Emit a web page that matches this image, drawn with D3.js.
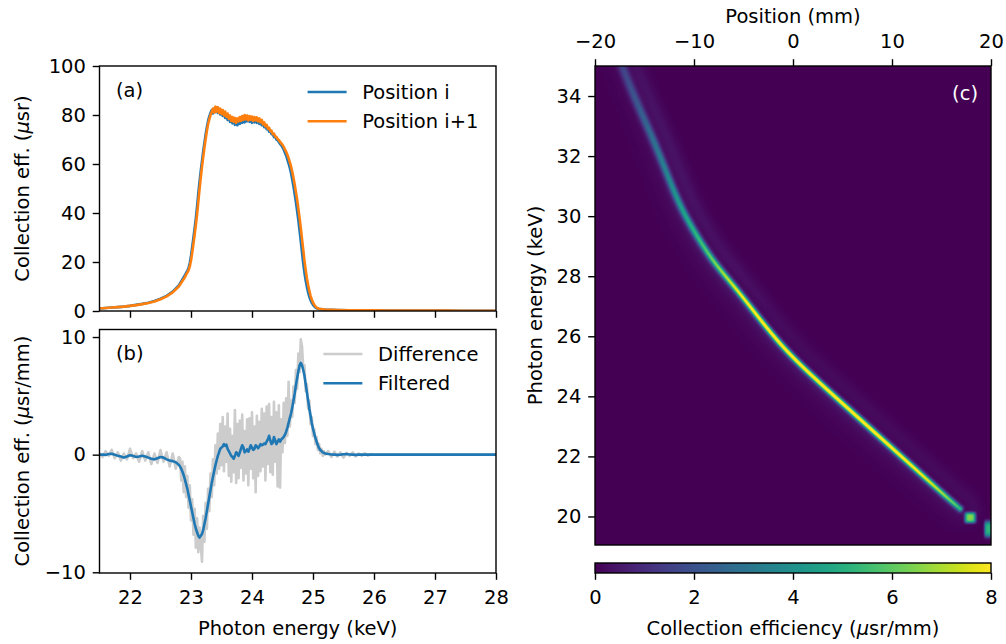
<!DOCTYPE html>
<html>
<head>
<meta charset="utf-8">
<script src="https://cdn.jsdelivr.net/npm/d3@7"></script>
<style>
  html, body { margin: 0; padding: 0; background: #fff; }
  svg text { font-family: "DejaVu Sans", sans-serif; }
</style>
</head>
<body>
<svg id="fig" width="1006" height="644"></svg>
<script>
// ---------- sampling grids (keV) ----------
function grid(a, b, step) {
  const n = Math.round((b - a) / step) + 1;
  return d3.range(n).map(i => +(a + i * step).toFixed(3));
}

// ---------- panel (a): collection efficiency (µsr) at two positions ----------
const energyA = [...grid(21.5, 22.8, 0.1), ...grid(22.9, 25.1, 0.02), ...grid(25.2, 28.0, 0.2)];
const posILow  = [1.0,1.2,1.4,1.6,1.8,2.1,2.5,2.9,3.4,4.1,5.0,6.2,7.9,10.4];
const posIMid  = [
  14.6,15.6,16.4,17.5,19.6,22.6,26.2,30.0,33.8,38.0,
  42.8,48.0,52.8,57.2,61.2,65.2,68.6,72.2,75.0,77.6,
  79.4,80.9,82.0,80.6,82.6,81.2,83.0,80.8,82.4,80.2,
  81.6,79.6,81.0,78.8,80.2,78.0,79.4,77.2,78.6,76.6,
  77.8,76.0,77.4,75.8,77.6,76.4,78.2,76.8,78.6,77.0,
  78.8,77.4,79.0,77.2,78.6,76.8,78.4,77.0,78.6,76.8,
  78.0,76.4,77.6,75.8,76.8,75.0,75.8,74.2,74.6,73.2,
  73.6,72.2,72.4,71.0,71.4,70.0,69.8,69.0,68.2,67.6,
  66.8,65.8,64.6,63.4,61.8,60.2,58.4,56.2,53.6,50.8,
  47.6,44.4,40.8,37.0,32.8,28.4,23.8,19.4,15.6,12.4,
  9.8,7.6,5.8,4.4,3.3,2.5,1.9,1.4,1.1,0.9,
  0.75];
const posIHigh = [0.55,0.4,0.32,0.28,0.25,0.22,0.2,0.18,0.16,0.15,0.14,0.13,0.12,0.12,0.11];

const posI1Low  = [1.0,1.2,1.4,1.6,1.8,2.1,2.4,2.8,3.3,3.9,4.8,6.0,7.6,10.0];
const posI1Mid  = [
  13.8,14.8,15.7,16.6,18.2,20.6,23.8,27.4,31.2,35.2,
  39.6,44.6,49.6,54.4,58.8,62.8,66.6,70.2,73.4,76.2,
  78.2,80.0,81.2,82.6,81.0,83.4,81.4,83.2,80.8,82.6,
  80.4,82.0,79.8,81.4,79.2,80.6,78.4,79.8,77.6,79.2,
  77.2,78.8,76.8,78.6,77.4,79.2,77.6,79.6,78.0,80.0,
  78.2,79.8,77.8,79.6,78.0,79.4,77.6,79.2,77.8,79.0,
  77.4,78.6,77.0,78.0,76.2,77.0,75.4,76.0,74.4,74.8,
  73.4,73.6,72.2,72.4,71.2,71.0,70.2,69.8,69.0,68.4,
  67.8,67.0,66.0,65.0,63.8,62.4,60.8,59.0,56.8,54.4,
  51.6,48.6,45.4,41.8,38.0,33.8,29.4,25.0,20.6,16.8,
  13.4,10.6,8.2,6.2,4.7,3.5,2.6,1.9,1.4,1.1,
  0.9];
const posI1High = [0.62,0.42,0.33,0.28,0.25,0.22,0.2,0.18,0.16,0.15,0.14,0.13,0.12,0.12,0.11];

const effPosI  = [...posILow, ...posIMid, ...posIHigh];
const effPosI1 = [...posI1Low, ...posI1Mid, ...posI1High];

// ---------- panel (b): difference per mm and its filtered version ----------
const energyB = [...grid(21.5, 22.8, 0.05), ...grid(22.82, 25.2, 0.02), ...grid(25.25, 26.0, 0.05), ...grid(26.2, 28.0, 0.2)];
const diffLow = [0.1,-0.2,0.3,-0.1,0.4,-0.3,0.2,-0.5,0.1,-0.4,0.5,-0.3,0.1,-0.6,0.3,-0.5,0.2,-0.8,0.1,-0.7,0.4,-0.6,0.2,-1.0,0.1,-1.2,-0.2];
const diffMid = [
  -0.3,-2.2,-0.6,-3.2,-1.0,-3.6,-1.8,-4.5,-2.6,-5.6,
  -3.8,-6.8,-4.6,-7.9,-5.4,-8.3,-6.2,-7.6,-9.1,-5.2,
  -7.4,-4.1,-6.3,-2.9,-4.8,-1.6,-3.6,-0.4,-2.6,0.8,
  -1.6,1.8,-1.2,2.6,-0.9,3.2,-1.4,2.4,-0.6,3.5,
  -1.8,2.2,-2.3,1.6,-1.5,3.8,-2.4,2.6,-2.0,2.9,
  -1.1,3.4,-2.2,2.0,-1.6,3.0,-2.6,3.1,-1.2,3.6,
  -2.0,2.4,-3.2,3.3,-1.8,2.8,-1.4,3.9,-1.0,3.5,
  -2.2,4.1,-0.8,4.3,-1.5,3.2,-1.7,4.5,-0.6,3.6,
  -2.7,4.2,-2.8,3.0,0.2,4.4,1.0,4.8,1.6,6.2,
  2.4,4.6,3.2,5.8,4.4,7.2,5.6,8.6,7.0,9.8,
  9.2,7.4,7.6,5.4,6.0,3.9,4.6,2.6,3.2,1.6,
  2.2,0.9,1.5,0.4,0.9,0.1,0.5,-0.1,0.3,0.0];
const diffHigh = [0.3,-0.2,0.25,-0.15,0.2,-0.25,0.15,-0.1,0.2,-0.15,0.1,-0.1,0.12,-0.08,0.05,0.0,
  0,0,0,0,0,0,0,0,0,0];

const filtLow = [0,0.02,-0.02,0.05,0.08,0.0,-0.1,-0.15,-0.25,-0.15,-0.05,-0.1,-0.2,-0.15,-0.1,-0.15,-0.25,-0.35,-0.4,-0.3,-0.2,-0.25,-0.4,-0.5,-0.55,-0.65,-0.85];
const filtMid = [
  -1.0,-1.2,-1.45,-1.75,-2.1,-2.5,-2.9,-3.4,-3.9,-4.4,
  -4.9,-5.4,-5.9,-6.3,-6.6,-6.9,-7.05,-6.9,-6.75,-6.4,
  -5.9,-5.4,-4.8,-4.2,-3.6,-3.0,-2.4,-1.9,-1.4,-0.9,
  -0.5,-0.1,0.2,0.5,0.6,0.7,0.9,0.75,0.85,0.5,
  0.3,0.1,-0.1,-0.2,-0.35,-0.1,0.2,0.1,-0.1,0.2,
  0.5,0.8,0.6,0.2,0.3,0.45,0.25,0.5,0.8,0.6,
  0.4,0.5,0.8,0.7,0.55,0.7,0.9,0.8,0.85,0.95,
  0.9,1.1,1.3,1.6,1.2,0.9,1.0,1.5,1.2,0.9,
  1.1,1.3,1.1,1.3,1.4,1.5,1.7,1.95,2.3,2.7,
  3.1,3.5,4.0,4.6,5.2,5.9,6.5,7.1,7.6,7.8,
  7.6,7.2,6.7,6.0,5.3,4.6,3.9,3.3,2.7,2.2,
  1.8,1.4,1.1,0.8,0.55,0.4,0.3,0.2,0.15,0.1];
const filtHigh = [0.05,0.02,0.0,-0.02,0.0,0.03,0.05,0.02,0.0,-0.02,0.0,0.02,0.0,0.01,0.0,0.0,
  0,0,0,0,0,0,0,0,0,0];

const diffVals = [...diffLow, ...diffMid, ...diffHigh];
const filtVals = [...filtLow, ...filtMid, ...filtHigh];

// ---------- panel (c): ridge of the position/energy map (control points) ----------
const ridgeX     = [-17.58,-17.14,-15.63,-14.11,-12.76,-11.41,-9.9,-8.21,-6.53,-4.85,-1.31,2.05,5.42,8.79,12.16,15.52,16.87];
const ridgeE     = [35.33,34.89,33.67,32.56,31.44,30.33,29.44,28.56,27.89,27.22,25.70,24.64,23.64,22.64,21.64,20.64,20.26];
const ridgePeak  = [1.5,1.6,2.2,2.9,3.6,4.4,5.2,6.2,7.3,8.4,8.8,8.8,8.8,8.8,8.5,6.8,5.4];
const ridgeSigma = [3.2,3.1,2.9,2.7,2.5,2.4,2.3,2.2,2.1,2.0,2.0,2.0,2.0,2.0,2.0,2.0,2.0];
const ridgeHalo  = [0.3,0.3,0.4,0.5,0.6,0.7,0.8,0.9,0.9,0.9,0.9,0.9,0.9,0.9,0.8,0.7,0.6];
const ridgeScatter = [0.3,0.3,0.35,0.35,0.35,0.35,0.3,0.3,0.3,0.25,0.2,0.2,0.2,0.2,0.2,0.2,0.2];
const spotX    = [17.9, 19.75];
const spotE    = [19.96, 19.58];
const spotPeak = [6.4, 5.2];
const spotHalfX = [0.5, 0.38];
const spotHalfE = [0.16, 0.24];

const ticksA = [0, 20, 40, 60, 80, 100];
const ticksB = [-10, 0, 10];
const ticksEnergy = [22, 23, 24, 25, 26, 27, 28];
const ticksPos = [-20, -10, 0, 10, 20];
const ticksMapE = [20, 22, 24, 26, 28, 30, 32, 34];
const ticksCbar = [0, 2, 4, 6, 8];

// ---------- layout ----------
const FONT = 19.5, TICK = 6.8, PAD = 6.8, SPINE = 1.4, LW = 2.6;
const PAD_BOTTOM = 10.8, PAD_TOP = 11.2;
const fmt = d3.format('d');
const svg = d3.select('#fig');

const xE = d3.scaleLinear().domain([21.5, 28]).range([99.5, 496]);
const yA = d3.scaleLinear().domain([0, 100]).range([311, 66]);
const yB = d3.scaleLinear().domain([-10.06, 10.64]).range([573, 329.5]);
const xC = d3.scaleLinear().domain([-20, 20]).range([595, 991]);
const yC = d3.scaleLinear().domain([19.05, 35]).range([545, 66]);
const cbar = d3.scaleLinear().domain([0, 8]).range([595, 991]);
const CB_TOP = 563, CB_BOT = 573;

const defs = svg.append('defs');
function clip(id, x0, x1, y0, y1) {
  defs.append('clipPath').attr('id', id).append('rect')
    .attr('x', x0).attr('y', y0).attr('width', x1 - x0).attr('height', y1 - y0);
}
clip('clipA', 99.5, 496, 66, 311);
clip('clipB', 99.5, 496, 329.5, 573);

function styleAxis(g) {
  g.select('.domain').remove();
  g.selectAll('.tick line').attr('stroke', '#000').attr('stroke-width', SPINE);
  g.selectAll('.tick text').attr('font-size', FONT).attr('fill', '#000')
    .attr('font-family', '"DejaVu Sans", sans-serif');
}
function frame(x0, x1, y0, y1) {
  svg.append('rect').attr('x', x0).attr('y', y0).attr('width', x1 - x0).attr('height', y1 - y0)
    .attr('fill', 'none').attr('stroke', '#000').attr('stroke-width', SPINE);
}
function vlabel(x, y, parts) {
  const t = svg.append('text').attr('transform', `translate(${x},${y}) rotate(-90)`)
    .attr('text-anchor', 'middle').attr('dy', '0.36em').attr('font-size', FONT).attr('fill', '#000');
  parts.forEach(p => t.append('tspan').attr('font-style', p.it ? 'italic' : null).text(p.s));
}
function hlabel(x, y, parts) {
  const t = svg.append('text').attr('x', x).attr('y', y)
    .attr('text-anchor', 'middle').attr('dy', '0.36em').attr('font-size', FONT).attr('fill', '#000');
  parts.forEach(p => t.append('tspan').attr('font-style', p.it ? 'italic' : null).text(p.s));
}
function legend(items, rightX, topY) {
  const g = svg.append('g');
  const texts = items.map((it, i) => g.append('text').attr('y', topY + i * 29.3).attr('dy', '0.36em')
    .attr('font-size', FONT).attr('fill', '#000').text(it.label));
  const w = d3.max(texts, t => t.node().getComputedTextLength());
  const tx = rightX - w;
  texts.forEach(t => t.attr('x', tx));
  items.forEach((it, i) => g.append('line')
    .attr('x1', tx - 15.6 - 39).attr('x2', tx - 15.6)
    .attr('y1', topY + i * 29.3).attr('y2', topY + i * 29.3)
    .attr('stroke', it.color).attr('stroke-width', LW));
}

// ---------- panel (a) ----------
const lineA = d3.line().x(d => xE(d[0])).y(d => yA(d[1]));
const gA = svg.append('g').attr('clip-path', 'url(#clipA)');
gA.append('path').datum(energyA.map((e, i) => [e, effPosI[i]]))
  .attr('d', lineA).attr('fill', 'none').attr('stroke', '#1f77b4').attr('stroke-width', LW).attr('stroke-linejoin', 'round');
gA.append('path').datum(energyA.map((e, i) => [e, effPosI1[i]]))
  .attr('d', lineA).attr('fill', 'none').attr('stroke', '#ff7f0e').attr('stroke-width', LW).attr('stroke-linejoin', 'round');

svg.append('g').attr('transform', 'translate(99.5,0)')
  .call(d3.axisLeft(yA).tickValues(ticksA).tickFormat(fmt).tickSize(TICK).tickPadding(PAD).tickSizeOuter(0)).call(styleAxis);
svg.append('g').attr('transform', 'translate(0,311)')
  .call(d3.axisBottom(xE).tickValues(ticksEnergy).tickSize(TICK).tickFormat('').tickSizeOuter(0)).call(styleAxis);
frame(99.5, 496, 66, 311);
svg.append('text').attr('x', 116).attr('y', 90).attr('dy', '0.36em').attr('font-size', FONT).text('(a)');
legend([{ label: 'Position i', color: '#1f77b4' }, { label: 'Position i+1', color: '#ff7f0e' }], 478.5, 92);
vlabel(22, 188.5, [{ s: 'Collection eff. (' }, { s: 'μ', it: true }, { s: 'sr)' }]);

// ---------- panel (b) ----------
const lineB = d3.line().x(d => xE(d[0])).y(d => yB(d[1]));
const gB = svg.append('g').attr('clip-path', 'url(#clipB)');
gB.append('path').datum(energyB.map((e, i) => [e, diffVals[i]]))
  .attr('d', lineB).attr('fill', 'none').attr('stroke', '#cccccc').attr('stroke-width', LW).attr('stroke-linejoin', 'round');
gB.append('path').datum(energyB.map((e, i) => [e, filtVals[i]]))
  .attr('d', lineB).attr('fill', 'none').attr('stroke', '#1f77b4').attr('stroke-width', LW).attr('stroke-linejoin', 'round');

svg.append('g').attr('transform', 'translate(99.5,0)')
  .call(d3.axisLeft(yB).tickValues(ticksB).tickFormat(fmt).tickSize(TICK).tickPadding(PAD).tickSizeOuter(0)).call(styleAxis);
svg.append('g').attr('transform', 'translate(0,573)')
  .call(d3.axisBottom(xE).tickValues(ticksEnergy).tickFormat(fmt).tickSize(TICK).tickPadding(PAD_BOTTOM).tickSizeOuter(0)).call(styleAxis);
frame(99.5, 496, 329.5, 573);
svg.append('text').attr('x', 116).attr('y', 353).attr('dy', '0.36em').attr('font-size', FONT).text('(b)');
legend([{ label: 'Difference', color: '#cccccc' }, { label: 'Filtered', color: '#1f77b4' }], 478.5, 354);
vlabel(22, 451, [{ s: 'Collection eff. (' }, { s: 'μ', it: true }, { s: 'sr/mm)' }]);
hlabel(297.75, 628, [{ s: 'Photon energy (keV)' }]);

// ---------- panel (c): map rendered to a raster ----------
(function drawMap() {
  const left = xC.range()[0], top = yC.range()[1];
  const W = Math.round(xC.range()[1] - left), H = Math.round(yC.range()[0] - top);
  // control points in local pixel space, ends repeated so the spline is clamped
  const ctrl = ridgeX.map((x, i) => ({
    x: xC(x) - left, y: yC(ridgeE[i]) - top,
    peak: ridgePeak[i], sig: ridgeSigma[i], halo: ridgeHalo[i], scat: ridgeScatter[i]
  }));
  const Q = [ctrl[0], ctrl[0], ...ctrl, ctrl[ctrl.length - 1], ctrl[ctrl.length - 1]];
  const keys = ['x', 'y', 'peak', 'sig', 'halo', 'scat'];
  const S = [];
  for (let i = 0; i < Q.length - 3; i++) {
    const q0 = Q[i], q1 = Q[i + 1], q2 = Q[i + 2], q3 = Q[i + 3];
    const n = Math.max(4, Math.ceil(Math.hypot(q2.x - q1.x, q2.y - q1.y) / 0.3));
    for (let k = 0; k < n; k++) {
      const t = k / n, t2 = t * t, t3 = t2 * t;
      const b0 = (1 - t) * (1 - t) * (1 - t) / 6, b1 = (3 * t3 - 6 * t2 + 4) / 6,
            b2 = (-3 * t3 + 3 * t2 + 3 * t + 1) / 6, b3 = t3 / 6;
      const s = {};
      keys.forEach(key => { s[key] = b0 * q0[key] + b1 * q1[key] + b2 * q2[key] + b3 * q3[key]; });
      S.push(s);
    }
  }
  S.push(Object.assign({}, ctrl[ctrl.length - 1]));
  S.forEach((s, j) => {
    const a = S[Math.max(j - 2, 0)], b = S[Math.min(j + 2, S.length - 1)];
    const len = Math.hypot(b.x - a.x, b.y - a.y) || 1;
    s.tx = (b.x - a.x) / len; s.ty = (b.y - a.y) / len;
  });

  const R = 40;
  const minD = new Float32Array(W * H).fill(1e9);
  const near = new Int32Array(W * H).fill(-1);
  S.forEach((s, j) => {
    const x0 = Math.max(0, Math.floor(s.x - R)), x1 = Math.min(W - 1, Math.ceil(s.x + R));
    const y0 = Math.max(0, Math.floor(s.y - R)), y1 = Math.min(H - 1, Math.ceil(s.y + R));
    for (let y = y0; y <= y1; y++) {
      const dy = y + 0.5 - s.y;
      for (let x = x0; x <= x1; x++) {
        const dx = x + 0.5 - s.x, d2 = dx * dx + dy * dy, k = y * W + x;
        if (d2 < minD[k]) { minD[k] = d2; near[k] = j; }
      }
    }
  });

  const spots = spotX.map((x, i) => ({
    x: xC(x) - left, y: yC(spotE[i]) - top, peak: spotPeak[i],
    hx: Math.abs(xC(spotHalfX[i]) - xC(0)), hy: Math.abs(yC(spotHalfE[i]) - yC(0))
  }));

  const lut = d3.range(256).map(i => d3.rgb(d3.interpolateViridis(i / 255)));
  const canvas = document.createElement('canvas');
  canvas.width = W; canvas.height = H;
  const ctx = canvas.getContext('2d');
  const img = ctx.createImageData(W, H);
  for (let y = 0; y < H; y++) {
    for (let x = 0; x < W; x++) {
      const k = y * W + x;
      let v = 0;
      const j = near[k];
      if (j >= 0) {
        const s = S[j], d2 = minD[k], d = Math.sqrt(d2);
        const ox = x + 0.5 - s.x, oy = y + 0.5 - s.y;
        v = s.peak * Math.exp(-d2 / (2 * s.sig * s.sig));
        if (s.tx * oy - s.ty * ox > 0) v += s.halo * Math.exp(-d / 7) * (1 - Math.exp(-d2 / 8));
        else v += s.scat * Math.exp(-Math.pow((d - 13) / 8, 2));
      }
      spots.forEach(b => {
        const u = (x + 0.5 - b.x) / b.hx, w = (y + 0.5 - b.y) / b.hy;
        v += b.peak * Math.exp(-0.7 * (u * u * u * u + w * w * w * w));
      });
      const c = lut[Math.max(0, Math.min(255, Math.round(v / 8 * 255)))];
      img.data[4 * k] = c.r; img.data[4 * k + 1] = c.g; img.data[4 * k + 2] = c.b; img.data[4 * k + 3] = 255;
    }
  }
  ctx.putImageData(img, 0, 0);
  svg.append('image').attr('x', left).attr('y', top).attr('width', W).attr('height', H)
    .attr('preserveAspectRatio', 'none').attr('href', canvas.toDataURL());
})();

svg.append('g').attr('transform', 'translate(595,0)')
  .call(d3.axisLeft(yC).tickValues(ticksMapE).tickFormat(fmt).tickSize(TICK).tickPadding(PAD).tickSizeOuter(0)).call(styleAxis);
svg.append('g').attr('transform', 'translate(0,66)')
  .call(d3.axisTop(xC).tickValues(ticksPos).tickFormat(fmt).tickSize(TICK).tickPadding(PAD_TOP).tickSizeOuter(0)).call(styleAxis);
frame(595, 991, 66, 545);
svg.append('text').attr('x', 978).attr('y', 93).attr('dy', '0.36em').attr('text-anchor', 'end')
  .attr('font-size', FONT).attr('fill', '#fff').text('(c)');
vlabel(535, 305.5, [{ s: 'Photon energy (keV)' }]);
hlabel(793, 16, [{ s: 'Position (mm)' }]);

// ---------- colour bar ----------
const grad = defs.append('linearGradient').attr('id', 'viridisBar').attr('x1', '0%').attr('x2', '100%');
d3.range(0, 1.0001, 0.02).forEach(t => grad.append('stop')
  .attr('offset', `${t * 100}%`).attr('stop-color', d3.interpolateViridis(t)));
svg.append('rect').attr('x', cbar.range()[0]).attr('y', CB_TOP)
  .attr('width', cbar.range()[1] - cbar.range()[0]).attr('height', CB_BOT - CB_TOP)
  .attr('fill', 'url(#viridisBar)');
svg.append('g').attr('transform', `translate(0,${CB_BOT})`)
  .call(d3.axisBottom(cbar).tickValues(ticksCbar).tickFormat(fmt).tickSize(TICK).tickPadding(PAD_BOTTOM).tickSizeOuter(0)).call(styleAxis);
frame(cbar.range()[0], cbar.range()[1], CB_TOP, CB_BOT);
hlabel(793, 628, [{ s: 'Collection efficiency (' }, { s: 'μ', it: true }, { s: 'sr/mm)' }]);
</script>
</body>
</html>
